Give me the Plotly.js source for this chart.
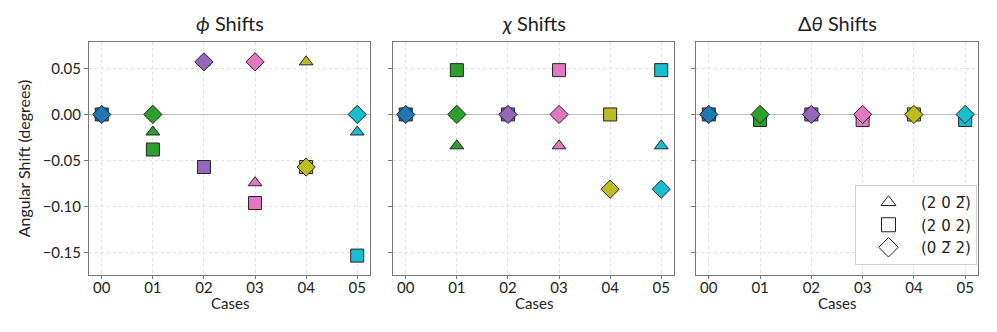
<!DOCTYPE html>
<html>
<head>
<meta charset="utf-8">
<script src="https://cdn.plot.ly/plotly-3.0.1.min.js"></script>
<style>
  html, body { margin: 0; padding: 0; background: #fff; }
  #chart { width: 997px; height: 332px; }
</style>
</head>
<body>
<div id="chart"></div>
<script>
const cases = ["00", "01", "02", "03", "04", "05"];
const caseColors = ["#1f77b4", "#2ca02c", "#9467bd", "#e377c2", "#bcbd22", "#17becf"];

const reflections = ["(2 0 2\u0305)", "(2 0 2)", "(0 2\u0305 2)"];
const symbols = ["triangle-up", "square", "diamond"];
const sizes = [12, 13, 14];

const panelTitles = ["<i>ϕ</i> Shifts", "<i>χ</i> Shifts", "Δ<i>θ</i> Shifts"];

// values per panel, per reflection (triangle, square, diamond)
const phiShift = [
  [0, -0.019, 0.057, -0.074, 0.057, -0.019],
  [0, -0.038, -0.057, -0.096, -0.057, -0.153],
  [0, 0, 0.057, 0.057, -0.057, 0]
];
const chiShift = [
  [0, -0.034, 0, -0.034, 0, -0.034],
  [0, 0.048, 0, 0.048, 0, 0.048],
  [0, 0, 0, 0, -0.081, -0.081]
];
const thetaShift = [
  [0, 0, 0, 0, 0, 0],
  [0, -0.006, 0, -0.006, 0, -0.006],
  [0, 0, 0, 0, 0, 0]
];
const panels = [phiShift, chiShift, thetaShift];

const fontFam = "Lato, 'DejaVu Sans', sans-serif";
const W = 997, H = 332;
const xDom = [[89 / W, 370 / W], [393 / W, 674 / W], [696 / W, 978 / W]];
const yDom = [1 - 275 / H, 1 - 42 / H];

const traces = [];
panels.forEach((panel, p) => {
  const sfx = p === 0 ? "" : String(p + 1);
  panel.forEach((vals, s) => {
    traces.push({
      x: cases,
      y: vals,
      type: "scatter",
      mode: "markers",
      xaxis: "x" + sfx,
      yaxis: "y" + sfx,
      showlegend: false,
      hoverinfo: "skip",
      marker: {
        symbol: symbols[s],
        size: sizes[s],
        color: caseColors,
        line: { color: "#222", width: 1 }
      }
    });
  });
});

// legend entries (white markers)
reflections.forEach((lab, s) => {
  traces.push({
    x: [null], y: [null],
    type: "scatter", mode: "markers",
    xaxis: "x3", yaxis: "y3",
    name: lab,
    marker: { symbol: symbols[s], size: sizes[s] + 1, color: "#fff", line: { color: "#222", width: 1 } }
  });
});

const layout = {
  width: W, height: H,
  margin: { l: 0, r: 0, t: 0, b: 0 },
  paper_bgcolor: "#fff",
  plot_bgcolor: "#fff",
  font: { family: fontFam, size: 14, color: "#222" },
  showlegend: true,
  legend: {
    x: 977 / W, xanchor: "right",
    y: 1 - 265 / H, yanchor: "bottom",
    bgcolor: "#fff", bordercolor: "#d0d0d0", borderwidth: 1,
    font: { family: "'DejaVu Sans', sans-serif", size: 15, color: "#222" },
    itemwidth: 55,
    tracegroupgap: 5
  },
  annotations: [],
  dragmode: false
};

const yRange = [-0.174, 0.0785];
xDom.forEach((dom, p) => {
  const sfx = p === 0 ? "" : String(p + 1);
  layout["xaxis" + sfx] = {
    domain: dom,
    anchor: "y" + sfx,
    type: "category",
    range: [-0.25, 5.25],
    showgrid: true, gridcolor: "#e2e2e2", griddash: "dot", gridwidth: 1,
    showline: true, mirror: true, linecolor: "#777", linewidth: 1,
    ticks: "outside", ticklen: 3, tickcolor: "#777",
    ticklabelstandoff: -4,
    tickfont: { size: 15 },
    title: { text: "" },
    zeroline: false
  };
  layout["yaxis" + sfx] = {
    domain: yDom,
    anchor: "x" + sfx,
    range: yRange,
    tickvals: [-0.15, -0.1, -0.05, 0, 0.05],
    tickformat: ".2f",
    showticklabels: p === 0,
    showgrid: true, gridcolor: "#e2e2e2", griddash: "dot", gridwidth: 1,
    zeroline: true, zerolinecolor: "#bdbdbd", zerolinewidth: 1,
    showline: true, mirror: true, linecolor: "#777", linewidth: 1,
    ticks: "outside", ticklen: 4, tickcolor: "#777",
    tickfont: { size: 15 },
    title: p === 0 ? { text: "Angular Shift (degrees)", font: { size: 16 }, standoff: 8 } : { text: "" }
  };
  layout.annotations.push({
    text: panelTitles[p],
    xref: "paper", yref: "paper",
    x: (dom[0] + dom[1]) / 2, y: yDom[1] + 5 / H,
    xanchor: "center", yanchor: "bottom",
    showarrow: false,
    font: { family: fontFam, size: 20, color: "#222" }
  });
  layout.annotations.push({
    text: "Cases",
    xref: "paper", yref: "paper",
    x: (dom[0] + dom[1]) / 2, y: 1 - 303 / H,
    xanchor: "center", yanchor: "middle",
    showarrow: false,
    font: { family: fontFam, size: 15, color: "#222" }
  });
});

Plotly.newPlot("chart", traces, layout, { staticPlot: true });
</script>
</body>
</html>
